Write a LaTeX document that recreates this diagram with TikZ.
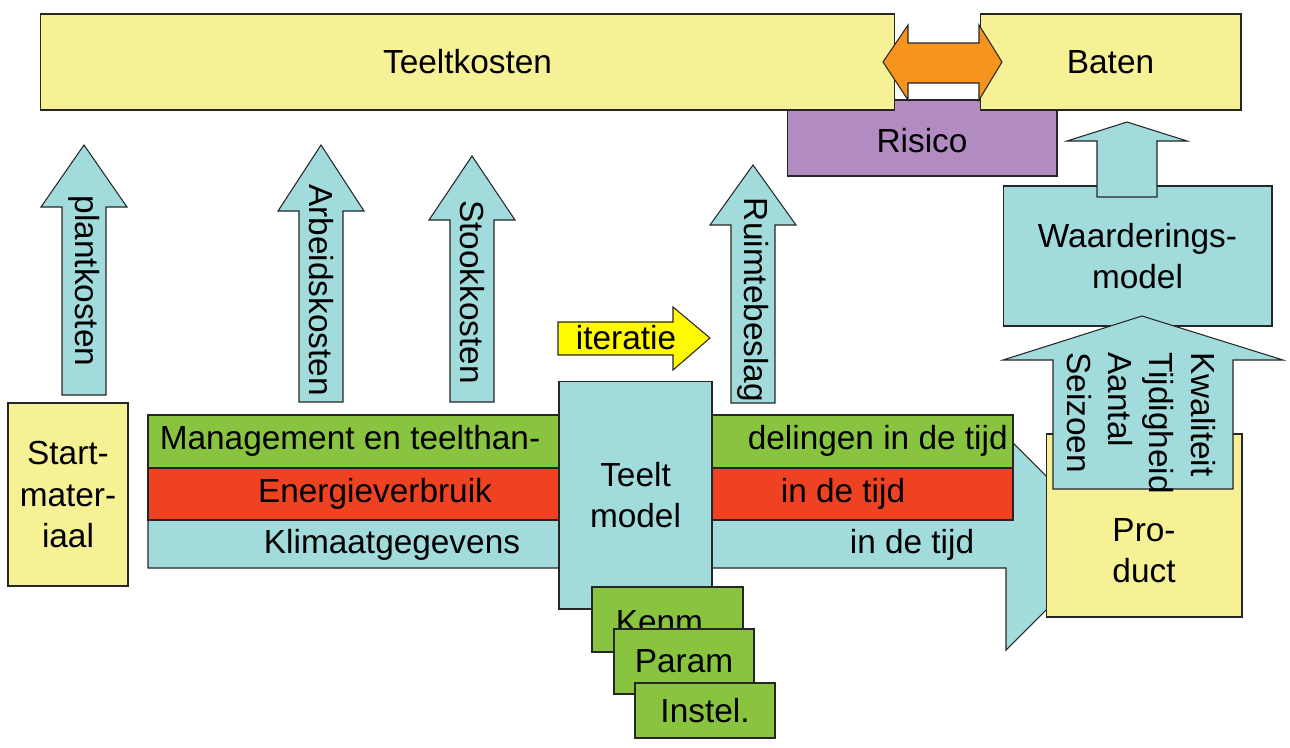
\documentclass[tikz,border=0pt]{standalone}
\usepackage{fontspec}
\setmainfont{Liberation Sans}
\definecolor{lichtgeel}{RGB}{246,241,148}
\definecolor{lichtblauw}{RGB}{161,219,220}
\definecolor{groen}{RGB}{137,196,64}
\definecolor{rood}{RGB}{238,66,35}
\definecolor{oranje}{RGB}{247,148,29}
\definecolor{paars}{RGB}{177,139,193}
\definecolor{geel}{RGB}{255,250,0}
\newcommand{\tekst}{\fontsize{19}{23.5}\selectfont}
\begin{document}
\begin{tikzpicture}[x=0.02cm,y=-0.02cm,
  blok/.style={draw=black!85,line width=0.6pt,inner sep=0pt,align=center,font=\tekst},
  vlak/.style={draw=black!85,line width=0.6pt},
  woord/.style={inner sep=0pt,font=\tekst},
  vwoord/.style={inner sep=0pt,font=\tekst,rotate=-90}]
\useasboundingbox (0,0) rectangle (1290,747);
% bovenste rij
\node[blok,fill=paars,minimum width=5.4cm,minimum height=1.52cm] (risico) at (922,138) {};
\node[woord] (risicotekst) at (922,141) {Risico};
\node[blok,fill=lichtgeel,minimum width=17.1cm,minimum height=1.92cm] (teeltkosten) at (467.5,62) {Teeltkosten};
\node[blok,fill=lichtgeel,minimum width=5.22cm,minimum height=1.92cm] (baten) at (1110.5,62) {Baten};
\draw[vlak,fill=oranje] (883,62) -- (908,25) -- (908,43) -- (979,43) -- (979,25) -- (1002,62)
  -- (979,100) -- (979,83) -- (908,83) -- (908,100) -- cycle;
% kostenpijlen
\foreach \x/\t/\h/\b/\n/\lbl/\ty in {84/145/207/395/plant/plantkosten/281,
    321/145/211/402/arbeid/Arbeidskosten/290,
    472/156/220/402/stook/Stookkosten/292,
    753/165/225/403/ruimte/Ruimtebeslag/300}{
  \draw[vlak,fill=lichtblauw] (\x,\t) -- (\x+43,\h) -- (\x+22,\h) -- (\x+22,\b) -- (\x-22,\b)
    -- (\x-22,\h) -- (\x-43,\h) -- cycle;
  \node[vwoord] (\n) at (\x,\ty) {\lbl};
}
\node[blok,fill=lichtgeel,minimum width=2.4cm,minimum height=3.66cm] (start) at (68,494.5) {Start-\\mater-\\iaal};
% grote pijl met banden
\draw[vlak,fill=lichtblauw] (148,415) -- (1006,415) -- (1006,436) -- (1113,543) -- (1006,650)
  -- (1006,568) -- (148,568) -- cycle;
\draw[vlak,fill=groen] (148,415) rectangle (559,468);
\draw[vlak,fill=groen] (712,415) rectangle (1013,468);
\draw[vlak,fill=rood] (148,468) rectangle (559,520);
\draw[vlak,fill=rood] (712,468) rectangle (1013,520);
\node[woord] (management) at (350,441) {Management en teelthan-};
\node[woord,anchor=east] (delingen) at (1008,441) {delingen in de tijd};
\node[woord] (energie) at (375,494) {Energieverbruik};
\node[woord] (energietijd) at (843,494) {in de tijd};
\node[woord] (klimaat) at (392,545) {Klimaatgegevens};
\node[woord] (klimaattijd) at (912,545) {in de tijd};
\node[blok,fill=lichtblauw,minimum width=3.06cm,minimum height=4.56cm] (teeltmodel) at (635.5,495) {Teelt\\model};
\draw[vlak,fill=geel] (558,322) -- (673,322) -- (673,307) -- (710,338) -- (673,370) -- (673,355)
  -- (558,355) -- cycle;
\node[woord] (iteratie) at (626,338) {iteratie};
\node[blok,fill=groen,minimum width=3.02cm,minimum height=1.3cm] (kenm) at (667.5,619.5) {};
\node[woord] (kenmtekst) at (664,622) {Kenm.};
\node[blok,fill=groen,minimum width=2.8cm,minimum height=1.3cm] (param) at (684,661.5) {Param};
\node[blok,fill=groen,minimum width=2.8cm,minimum height=1.1cm] (instel) at (705,710.5) {Instel.};
% product en waardering
\node[blok,fill=lichtgeel,minimum width=3.92cm,minimum height=3.66cm] (product) at (1144,525.5) {};
\node[woord,align=center] (producttekst) at (1144,551) {Pro-\\duct};
\node[blok,fill=lichtblauw,minimum width=5.38cm,minimum height=2.8cm] (waardering) at (1137.5,256) {Waarderings-\\model};
\draw[vlak,fill=lichtblauw] (1142,316) -- (1283,360) -- (1233,360) -- (1233,489) -- (1053,489)
  -- (1053,360) -- (1003,360) -- cycle;
\node[vwoord,anchor=west,align=left] (criteria) at (1141,352) {Kwaliteit\\Tijdigheid\\Aantal\\Seizoen};
\draw[vlak,fill=lichtblauw] (1127,122) -- (1187,141) -- (1157,141) -- (1157,197) -- (1097,197)
  -- (1097,141) -- (1067,141) -- cycle;
\end{tikzpicture}
\end{document}
